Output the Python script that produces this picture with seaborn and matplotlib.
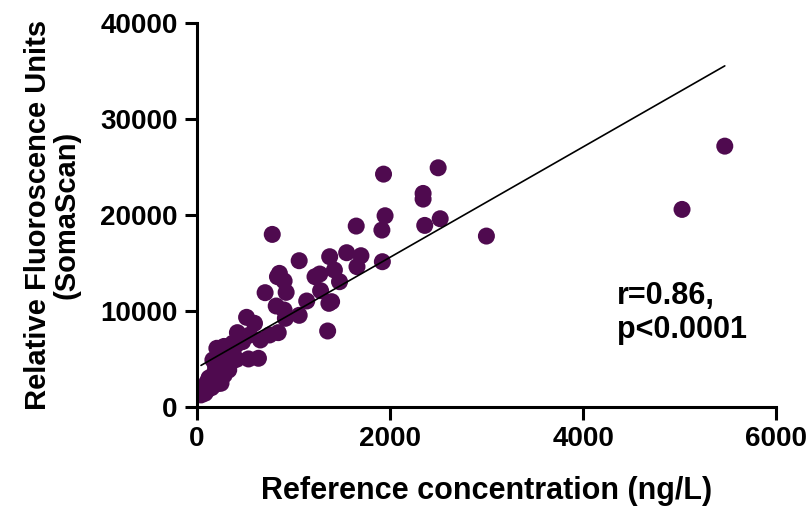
import matplotlib
matplotlib.use("Agg")
import matplotlib.pyplot as plt
import seaborn as sns
import numpy as np
import pandas as pd

# Reference concentration (ng/L)
ref_conc = [5468, 5025, 2998, 2498, 1932, 2342, 2342, 2359, 2519, 1948,
            1915, 1920, 1649, 779, 1058, 1374, 1550, 1698, 1657, 1423,
            1476, 1271, 1222, 853, 833, 902, 923, 705, 1280, 1136,
            1394, 1366, 820, 902, 915, 1058, 1353, 513, 595, 418,
            546, 841, 751, 656, 472, 328, 205, 533, 636, 410,
            246, 164, 328, 226, 226, 123, 62, 41, 82, 369,
            317, 230, 265, 178, 248, 127, 75, 300, 350, 280,
            190, 150, 110, 100, 200, 280, 400, 460,
            75, 178, 282, 355, 127, 230, 150, 100]
# Relative fluorescence units (SomaScan)
rfu = [27160, 20570, 17794, 24905, 24245, 22234, 21644, 18904, 19598, 19910,
       18418, 15123, 18835, 17967, 15227, 15643, 16060, 15747, 14603, 14256,
       13042, 13840, 13562, 13909, 13562, 13111, 11932, 11897, 12105, 11030,
       10961, 10787, 10510, 10094, 9226, 9539, 7908, 9330, 8706, 7735,
       7492, 7735, 7492, 6972, 6798, 6174, 6105, 4995, 5064, 4960,
       5584, 4891, 3850, 3330, 2463, 2983, 1942, 1249, 1422, 6629,
       5755, 5234, 4194, 3507, 2466, 2810, 1769, 4600, 5400, 6300,
       4300, 3100, 2200, 1700, 2800, 3600, 6400, 7100,
       1560, 2290, 3330, 4680, 3020, 4060, 2000, 2500]

x_ticks = [0, 2000, 4000, 6000]
y_ticks = [0, 10000, 20000, 30000, 40000]
stats_text = "r=0.86,\np<0.0001"

df = pd.DataFrame({"ref": ref_conc, "rfu": rfu})

sns.set_style("ticks")
plt.rcParams["font.family"] = ["Liberation Sans", "DejaVu Sans"]
plt.rcParams["font.weight"] = "bold"
for k in ["text.color", "axes.labelcolor", "xtick.color", "ytick.color", "axes.edgecolor"]:
    plt.rcParams[k] = "black"

fig = plt.figure(figsize=(8.11, 5.08), dpi=100)
ax = fig.add_axes([0.243, 0.199, 0.714, 0.756])

purple = "#4f0a4f"
sns.regplot(data=df, x="ref", y="rfu", ax=ax, ci=None, truncate=True,
            scatter_kws=dict(s=150, color=purple, edgecolors="none", alpha=1, zorder=2),
            line_kws=dict(color="black", linewidth=1.2, zorder=3))

ax.set_xlim(0, 6000)
ax.set_ylim(0, 40000)
ax.set_xticks(x_ticks)
ax.set_yticks(y_ticks)
ax.set_xticklabels([str(t) for t in x_ticks], fontsize=20, fontweight="bold")
ax.set_yticklabels([str(t) for t in y_ticks], fontsize=20, fontweight="bold")
ax.set_xlabel("Reference concentration (ng/L)", fontsize=22, fontweight="bold", labelpad=17)
ax.set_ylabel("Relative Fluoroscence Units\n(SomaScan)", fontsize=21, fontweight="bold",
              labelpad=14, linespacing=1.05)

sns.despine(ax=ax)
for s in ["left", "bottom"]:
    ax.spines[s].set_linewidth(2.2)
    ax.spines[s].set_color("black")
ax.tick_params(axis="both", length=9, width=2.2, color="black", direction="out", pad=5)
ax.spines["left"].set_zorder(5)
ax.spines["bottom"].set_zorder(5)

ax.text(4350, 13100, stats_text, fontsize=22, fontweight="bold", va="top", ha="left",
        linespacing=1.15)

fig.savefig("out.png", dpi=100)
